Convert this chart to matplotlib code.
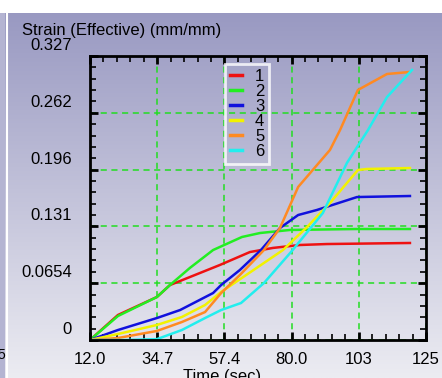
import numpy as np
import matplotlib
matplotlib.use('Agg')
import matplotlib.pyplot as plt
from matplotlib.transforms import ScaledTranslation
from matplotlib.ticker import AutoMinorLocator

plt.rcParams['font.family'] = ['Liberation Sans', 'DejaVu Sans']

# strain (effective) vs time
t1 = [12.0, 21.4, 34.5, 38.9, 55.7, 65.8, 73.5, 82.6, 91.7, 119.6]
s1 = [0, 0.0288, 0.0495, 0.0633, 0.0864, 0.1013, 0.106, 0.1094, 0.1105, 0.1117]
t2 = [12.0, 21.4, 34.5, 38.9, 45.6, 53.4, 63.1, 69.2, 79.3, 101.8, 119.6]
s2 = [0, 0.0276, 0.0495, 0.0633, 0.083, 0.1036, 0.1186, 0.1232, 0.1267, 0.1278, 0.1278]
t3 = [12.0, 21.4, 34.5, 42.3, 53.4, 56.1, 62.4, 69.5, 75.9, 82.0, 88.3, 101.8, 119.6]
s3 = [0, 0.0115, 0.0253, 0.0345, 0.0541, 0.0633, 0.0806, 0.1036, 0.129, 0.1439, 0.1497, 0.1646, 0.1658]
t4 = [12.0, 21.4, 34.5, 42.9, 50.7, 56.1, 69.5, 76.9, 85.0, 92.7, 102.1, 105.1, 119.6]
s4 = [0, 0.0069, 0.0173, 0.0265, 0.0403, 0.0553, 0.0864, 0.1036, 0.1301, 0.1577, 0.1957, 0.1969, 0.198]
t5 = [12.0, 21.4, 34.5, 42.9, 50.7, 56.1, 62.4, 70.5, 75.9, 82.0, 92.7, 96.1, 102.1, 111.9, 119.6]
s5 = [0, 0.0023, 0.0104, 0.0207, 0.0322, 0.0541, 0.0748, 0.1036, 0.129, 0.1762, 0.2188, 0.2418, 0.2879, 0.3063, 0.3086]
t6 = [12.0, 23.8, 34.5, 42.9, 50.7, 56.1, 62.8, 70.5, 79.6, 90.3, 98.4, 105.5, 111.9, 120.3]
s6 = [0, 0, 0.001, 0.0115, 0.0253, 0.0345, 0.0426, 0.0656, 0.1013, 0.1462, 0.2038, 0.2418, 0.2798, 0.3109]

names = ['1', '2', '3', '4', '5', '6']
colors = ['#ee1111', '#22ee22', '#1111dd', '#f2f200', '#ff8a22', '#22eeee']

x_ticks = [12.0, 34.6, 57.2, 79.8, 102.4, 125.0]
x_labels = ['12.0', '34.7', '57.4', '80.0', '103', '125']
y_ticks = [0, 0.0654, 0.1308, 0.1962, 0.2616, 0.327]
y_labels = ['0', '0.0654', '0.131', '0.196', '0.262', '0.327']

fig = plt.figure(figsize=(4.42, 3.78), dpi=100)

# lavender gradient background
bg = fig.add_axes([0, 0, 1, 1], zorder=-5)
top = np.array([150, 150, 192]) / 255
bot = np.array([236, 236, 242]) / 255
g = np.linspace(0, 1, 256)[:, None]
img = top + (bot - top) * g
bg.imshow(np.repeat(img[:, None, :], 2, axis=1), aspect='auto', extent=[0, 1, 0, 1])
bg.axvspan(0, 5 / 442, color='#b4b4d2', lw=0)
bg.axvline(6.5 / 442, color='white', lw=1.5)
bg.axhspan(1 - 13 / 378, 1, color='white', lw=0)
bg.set_xlim(0, 1)
bg.set_ylim(0, 1)
bg.axis('off')

ax = fig.add_axes([90 / 442, 38 / 378, 336 / 442, 284 / 378])
ax.set_facecolor('none')

series = [(t1, s1), (t2, s2), (t3, s3), (t4, s4), (t5, s5), (t6, s6)]
for (t, s), c, n in zip(series, colors, names):
    ax.plot(t, s, color=c, lw=1.8, label=n)

ax.set_xlim(12, 125)
ax.set_ylim(0, 0.327)
ax.set_xticks(x_ticks)
ax.set_xticklabels(x_labels, fontsize=12)
ax.set_yticks(y_ticks)
ax.set_yticklabels(y_labels, fontsize=12)
ax.xaxis.set_minor_locator(AutoMinorLocator(5))
ax.yaxis.set_minor_locator(AutoMinorLocator(5))
ax.tick_params(which='both', direction='in', top=True, right=True)
ax.tick_params(which='major', length=6, width=2)
ax.tick_params(which='minor', length=4, width=1.2)
ax.tick_params(axis='x', pad=9)
ax.tick_params(axis='y', pad=13)
for sp in ax.spines.values():
    sp.set_linewidth(2)

# y labels sit a bit above their ticks in the original
for lab in ax.get_yticklabels():
    lab.set_transform(lab.get_transform() + ScaledTranslation(0, 0.12, fig.dpi_scale_trans))

ax.grid(True, which='major', color='#22dd22', ls=(0, (4, 3)), lw=1.1)

leg = ax.legend(loc='upper left', bbox_to_anchor=((225 - 90) / 336, (340 - 64) / 284),
                fontsize=12, frameon=True, handlelength=0.7, handletextpad=0.8,
                labelspacing=0.0, borderpad=0.3, borderaxespad=0)
leg.get_frame().set_facecolor('none')
leg.get_frame().set_edgecolor('white')
leg.get_frame().set_linewidth(2)
leg.get_frame().set_boxstyle('square', pad=0)
for h in leg.get_lines():
    h.set_linewidth(2.5)

fig.text(22 / 442, 1 - 30 / 378, 'Strain (Effective) (mm/mm)', fontsize=12, va='center')
fig.text(222 / 442, 1 - 369 / 378, 'Time (sec)', fontsize=12, ha='center', va='top')
fig.text(-3 / 442, 1 - 355 / 378, '5', fontsize=10, va='center')

fig.savefig('out.png', dpi=100)
